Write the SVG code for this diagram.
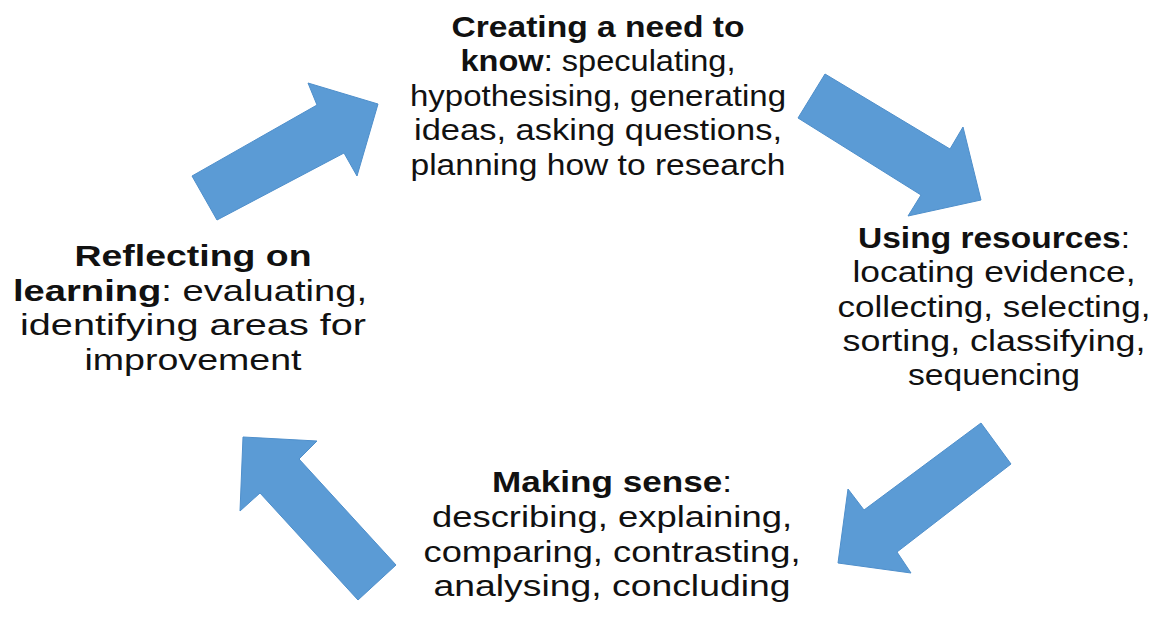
<svg xmlns="http://www.w3.org/2000/svg" width="1159" height="636" viewBox="0 0 1159 636">
<style>
.arrow{fill:#5b9bd5;stroke:#4f8fcb;stroke-width:1;stroke-linejoin:miter}
.t{font-family:"Liberation Sans","Open Sans",sans-serif;font-size:30px;fill:#111;text-anchor:middle}
.b{font-weight:bold}
</style>
<rect width="1159" height="636" fill="#ffffff"/>
<g id="connectors">
<polygon class="arrow" points="192,176 317,105 308,83 378,104 357,176 344,153 217,220"/>
<polygon class="arrow" points="825,74 950,149 963,127 981,200 908,216 921,195 798,118"/>
<polygon class="arrow" points="981,423 1011,464 897,552 911,573 838,563 848,489 864,510"/>
<polygon class="arrow" points="358,600 396,565 299,459 317,441 243,437 240,511 260,493"/>
</g>
<g id="node-creating">
<text class="t" x="598" y="37" textLength="293" lengthAdjust="spacingAndGlyphs"><tspan class="b">Creating a need to</tspan></text>
<text class="t" x="598" y="71" textLength="275" lengthAdjust="spacingAndGlyphs"><tspan class="b">know</tspan>: speculating,</text>
<text class="t" x="598" y="106" textLength="376" lengthAdjust="spacingAndGlyphs">hypothesising, generating</text>
<text class="t" x="598" y="140" textLength="368" lengthAdjust="spacingAndGlyphs">ideas, asking questions,</text>
<text class="t" x="598" y="175" textLength="375" lengthAdjust="spacingAndGlyphs">planning how to research</text>
</g>
<g id="node-using">
<text class="t" x="994" y="248" textLength="272" lengthAdjust="spacingAndGlyphs"><tspan class="b">Using resources</tspan>:</text>
<text class="t" x="994" y="282" textLength="283" lengthAdjust="spacingAndGlyphs">locating evidence,</text>
<text class="t" x="994" y="317" textLength="313" lengthAdjust="spacingAndGlyphs">collecting, selecting,</text>
<text class="t" x="994" y="351" textLength="303" lengthAdjust="spacingAndGlyphs">sorting, classifying,</text>
<text class="t" x="994" y="385" textLength="172" lengthAdjust="spacingAndGlyphs">sequencing</text>
</g>
<g id="node-making">
<text class="t" x="612" y="492" textLength="240" lengthAdjust="spacingAndGlyphs"><tspan class="b">Making sense</tspan>:</text>
<text class="t" x="612" y="527" textLength="360" lengthAdjust="spacingAndGlyphs">describing, explaining,</text>
<text class="t" x="612" y="562" textLength="377" lengthAdjust="spacingAndGlyphs">comparing, contrasting,</text>
<text class="t" x="612" y="596" textLength="357" lengthAdjust="spacingAndGlyphs">analysing, concluding</text>
</g>
<g id="node-reflecting">
<text class="t" x="193" y="266" textLength="237" lengthAdjust="spacingAndGlyphs"><tspan class="b">Reflecting on</tspan></text>
<text class="t" x="190" y="301" textLength="354" lengthAdjust="spacingAndGlyphs"><tspan class="b">learning</tspan>: evaluating,</text>
<text class="t" x="193" y="335" textLength="346" lengthAdjust="spacingAndGlyphs">identifying areas for</text>
<text class="t" x="193" y="370" textLength="217" lengthAdjust="spacingAndGlyphs">improvement</text>
</g>
</svg>
